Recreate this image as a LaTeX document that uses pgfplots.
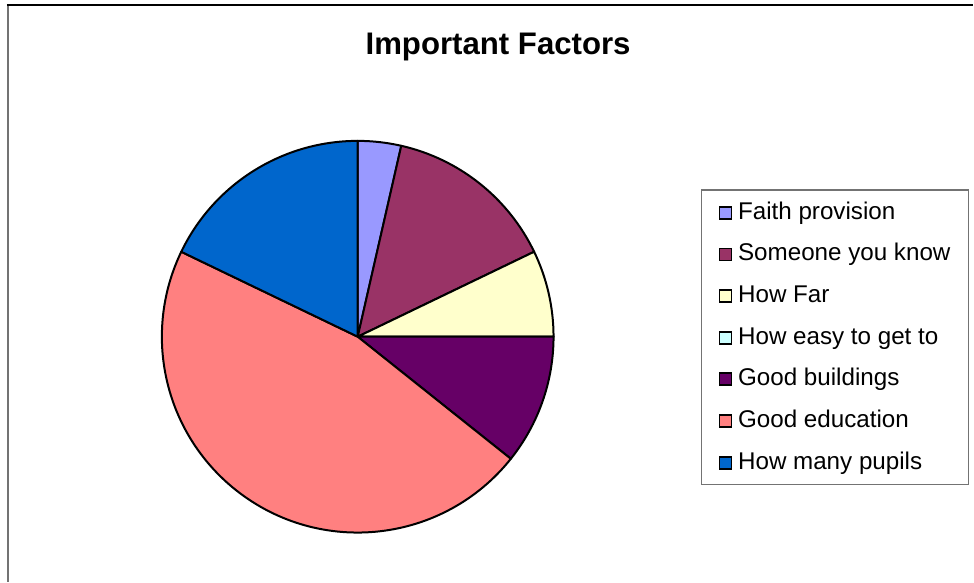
\documentclass[border=0pt]{standalone}
\usepackage{pgfplots}
\pgfplotsset{compat=1.18}
\usepackage{fontspec}
\setmainfont{Liberation Sans}
\definecolor{cA}{HTML}{9999FF}
\definecolor{cB}{HTML}{993366}
\definecolor{cC}{HTML}{FFFFCC}
\definecolor{cD}{HTML}{CCFFFF}
\definecolor{cE}{HTML}{660066}
\definecolor{cF}{HTML}{FF8080}
\definecolor{cG}{HTML}{0066CC}
% pie slice: #1 value, #2 colour; total of all values = 28
\newcommand\slice[2]{%
  \pgfmathsetmacro\en{\start - #1/28*360}%
  \ifdim #1pt>0pt
    \edef\temp{\noexpand\filldraw[fill=#2, draw=black, line width=2pt, line join=round] (axis cs:358,245) -- ++(\start:196pt) arc[start angle=\start, end angle=\en, radius=196pt] -- cycle;}%
    \temp
  \fi
  \global\let\start\en
}
% legend entry: #1 pixel y of centre, #2 colour, #3 text
\newcommand\legentry[3]{%
  \pgfmathsetmacro\ya{582-#1-6}%
  \pgfmathsetmacro\yb{582-#1+6}%
  \pgfmathsetmacro\yt{582-#1-6.5}%
  \edef\temp{\noexpand\filldraw[fill=#2, draw=black, line width=1.8pt] (axis cs:720,\ya) rectangle (axis cs:732,\yb);
  \noexpand\node[anchor=base west, inner sep=0pt] at (axis cs:738.5,\yt) {\noexpand\fontsize{24.2}{28}\noexpand\selectfont #3};}%
  \temp
}
\begin{document}
\begin{tikzpicture}
\begin{axis}[
  x=1pt, y=1pt,
  xmin=0, xmax=974, ymin=0, ymax=582,
  hide axis, clip=false, scale only axis,
]
% full picture area
\path (axis cs:0,0) rectangle (axis cs:974,582);
% frame
\draw[black!55, line width=2pt] (axis cs:8,0) -- (axis cs:8,577);
\draw[black, line width=1.6pt] (axis cs:7,577) -- (axis cs:974,577);
% title
\node[anchor=base, inner sep=0pt] at (axis cs:498.5,527) {\fontsize{31.2}{34}\selectfont\bfseries Important Factors};
% pie, clockwise from 12 o'clock
\gdef\start{90}
\slice{1}{cA}
\slice{4}{cB}
\slice{2}{cC}
\slice{0}{cD}
\slice{3}{cE}
\slice{13}{cF}
\slice{5}{cG}
% legend
\draw[black!55, line width=1.4pt, fill=white] (axis cs:702,392) rectangle (axis cs:969,97);
\legentry{213}{cA}{Faith provision}
\legentry{254.7}{cB}{Someone you know}
\legentry{296.3}{cC}{How Far}
\legentry{338}{cD}{How easy to get to}
\legentry{379.7}{cE}{Good buildings}
\legentry{421.3}{cF}{Good education}
\legentry{463}{cG}{How many pupils}
\end{axis}
\end{tikzpicture}
\end{document}
